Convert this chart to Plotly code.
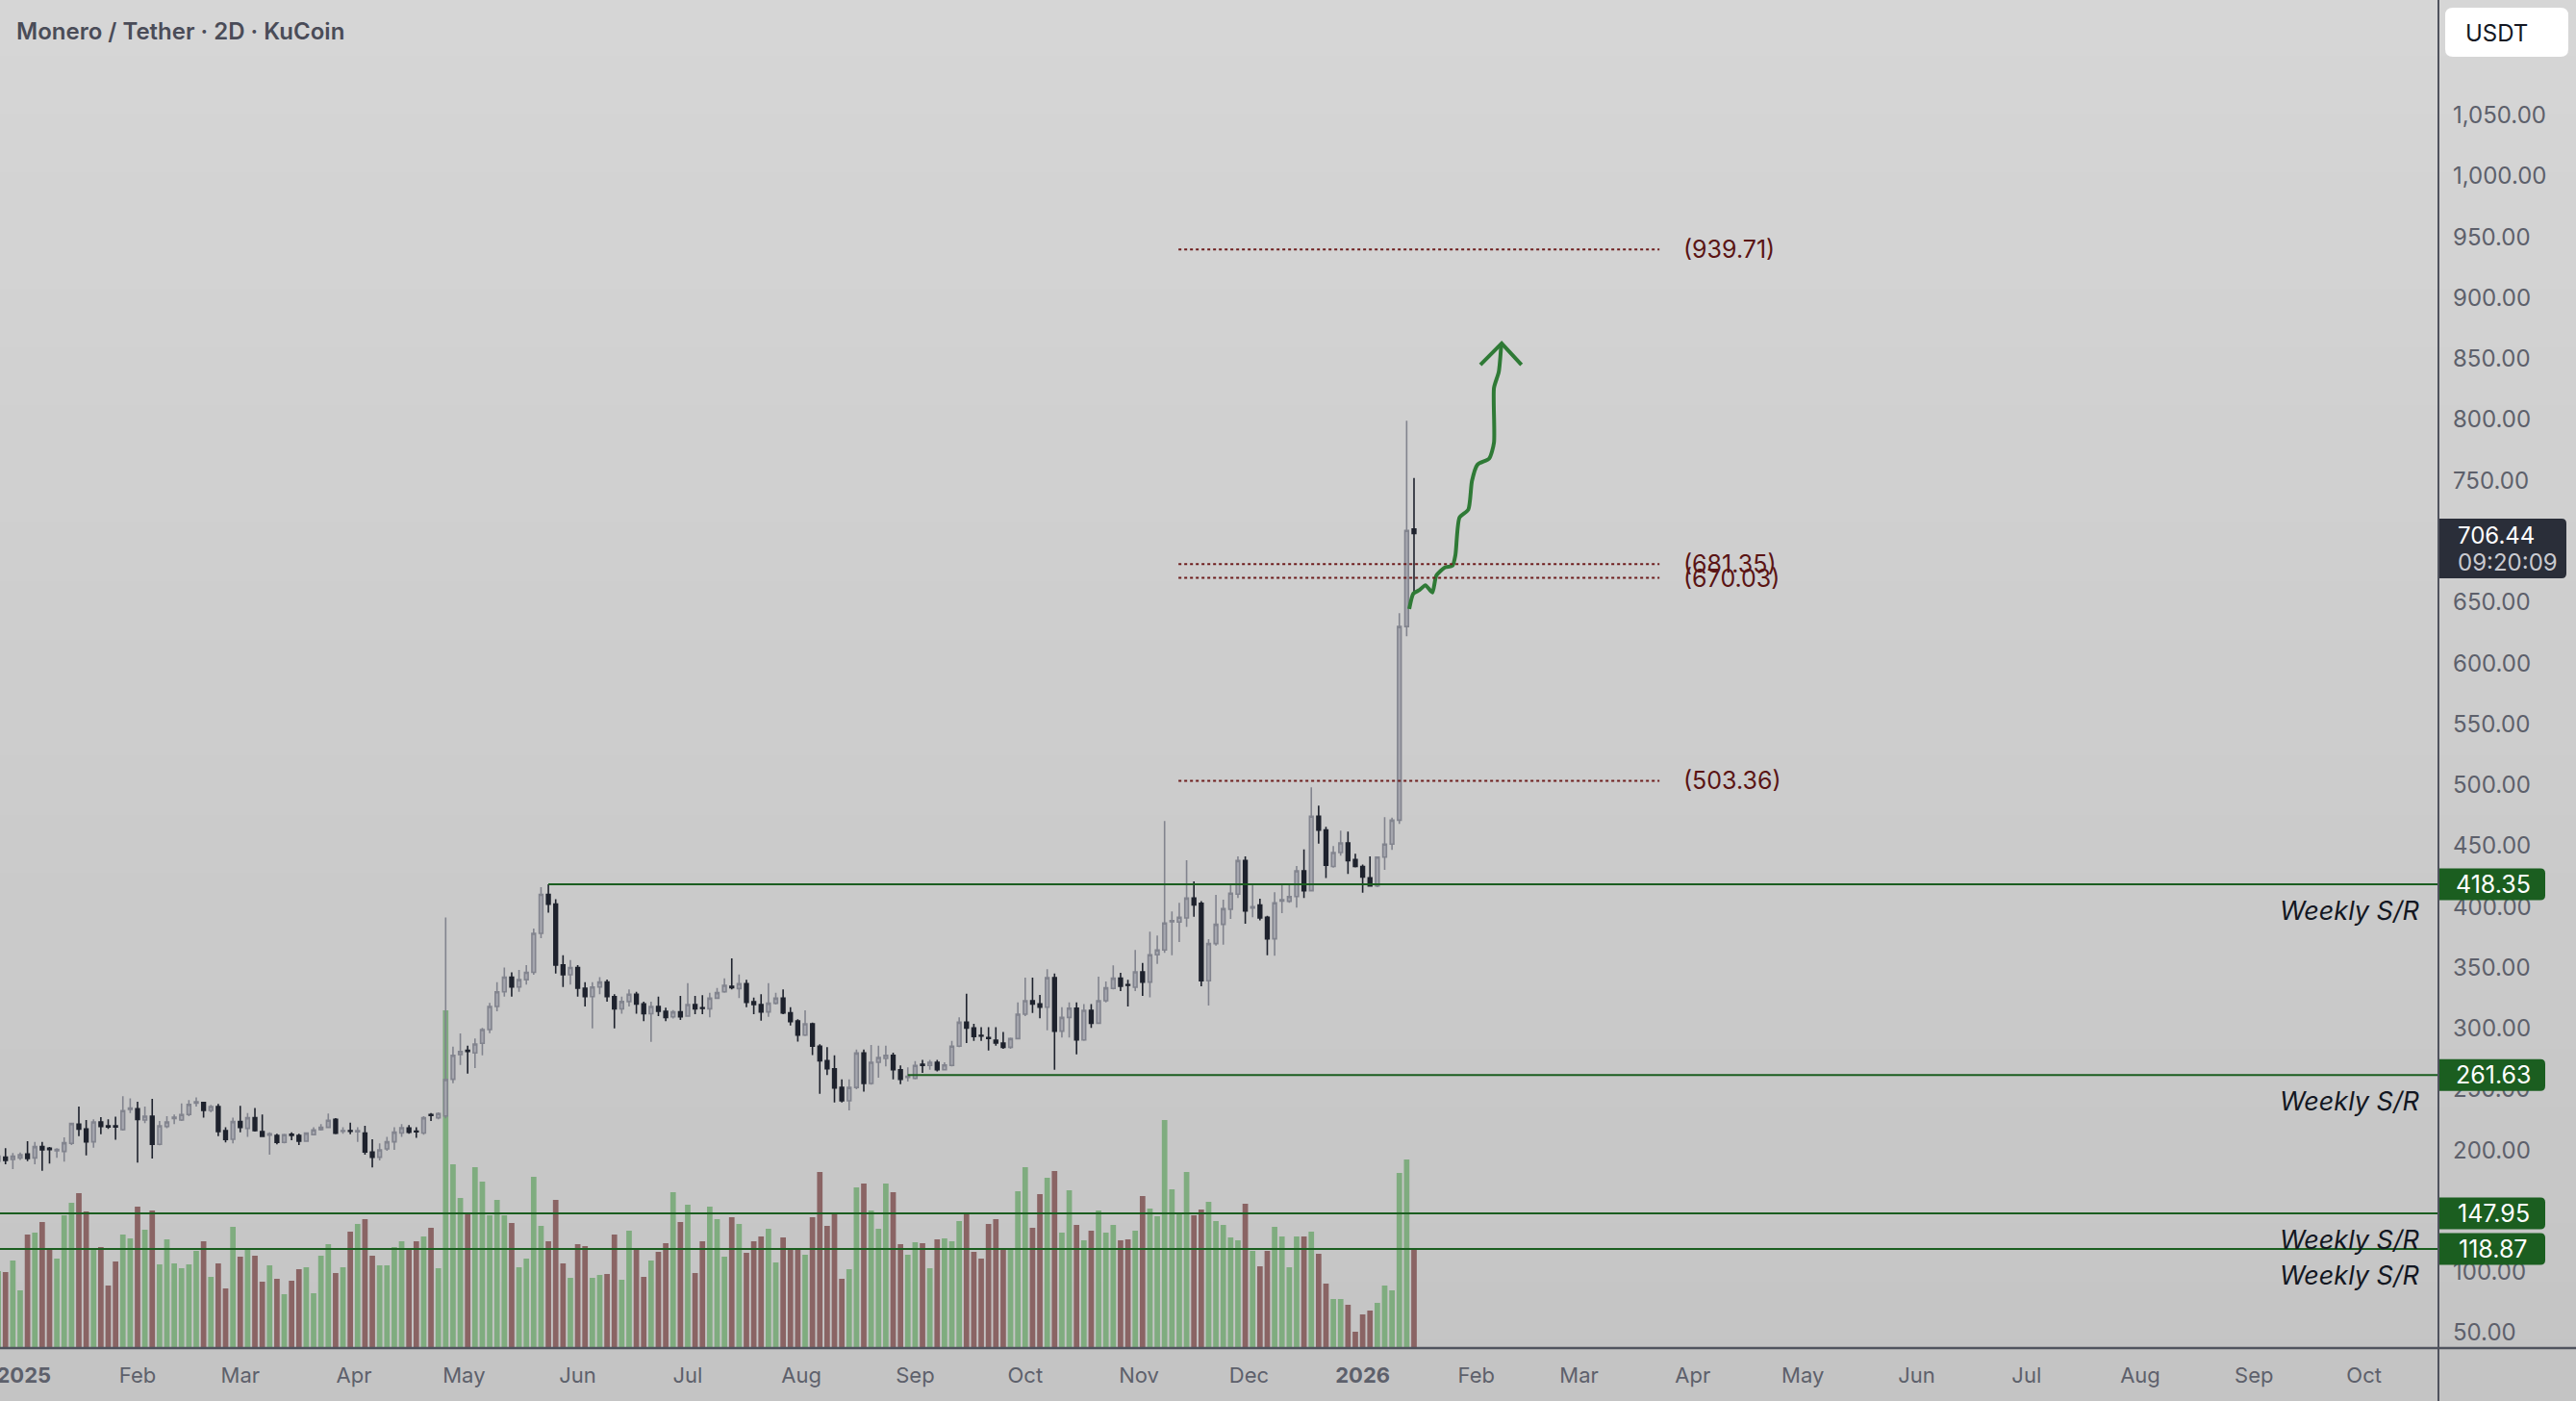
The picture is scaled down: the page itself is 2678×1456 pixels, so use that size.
import pandas as pd
import plotly.graph_objects as go

# ---------------- data ----------------
TITLE = "Monero / Tether · 2D · KuCoin"
LAST_BAR = "2026-01-15"

OPEN = [
    191.0, 194.2, 192.3, 193.6, 196.8, 193.6, 202.9, 201.5, 199.5, 198.9,
    205.5, 221.3, 217.3, 206.8, 223.1, 220.0, 220.0, 216.8, 233.5, 234.0,
    224.7, 227.9, 204.7, 219.4, 226.0, 224.7, 229.2, 238.6, 239.0, 232.6,
    235.8, 216.0, 208.9, 223.4, 217.9, 226.6, 215.2, 212.3, 212.1, 206.3,
    213.0, 212.1, 207.3, 212.6, 216.8, 218.7, 225.2, 215.5, 216.0, 215.0,
    213.9, 198.4, 194.2, 201.0, 206.8, 214.0, 218.1, 215.5, 214.0, 229.2,
    226.6, 228.0, 258.2, 278.5, 282.0, 279.8, 287.7,
    299, 318, 330, 342, 334, 340, 346, 378, 410, 402, 352, 344, 350, 333, 326,
    334, 338, 326, 316, 322, 328, 320, 312, 318, 314,
    309.5, 313.5, 310.0, 319.5, 317.0, 316.1, 324.8, 330.0, 334.5, 332.7,
    336.6, 321.9, 319.5, 313.5, 320.6, 324.8, 312.7, 306.1, 294.5, 303.7,
    285.3, 273.4, 266.8, 251.5, 240.5, 251.5, 279.7, 254.7, 272.1, 275.3,
    277.9, 266.0, 259.7, 258.9, 270.5, 269.5, 272.1, 266.0, 269.5, 285.3,
    305.0, 300.3, 294.2, 292.5, 290.3, 287.9, 284.5, 291.6, 311.6, 322.7,
    320.0, 317.4, 341.6, 297.7, 309.0, 316.6, 290.5, 314.8, 304.2,
    322.7, 332.8, 341.2, 335.8, 333.8, 346.4, 338.0, 360.4, 364.4, 387.5,
    387.3, 390.7, 407.0, 402.6, 339.1, 369.6, 385.4, 397.8, 410.2, 437.8,
    398.8, 401.3, 391.2, 373.6, 404.6, 404.4, 408.3, 429.4, 413.1, 474.2,
    462.9, 432.9, 444.4, 452.3, 438.6, 432.9, 423.6, 417.0, 440.7, 451.3,
    471.0, 630.0, 710.0,
]
HIGH = [
    197.0, 201.5, 197.6, 198.0, 207.3, 206.8, 206.8, 202.5, 201.5, 210.5,
    222.6, 235.8, 224.7, 225.2, 227.1, 225.2, 227.4, 244.2, 242.4, 239.7,
    235.8, 242.1, 224.0, 227.9, 229.2, 238.4, 241.0, 243.2, 239.7, 237.1,
    237.9, 218.7, 226.6, 236.3, 230.5, 234.5, 229.2, 214.7, 213.4, 213.4,
    214.7, 213.4, 214.7, 218.7, 221.3, 230.0, 226.3, 218.7, 222.6, 218.7,
    220.0, 208.9, 205.5, 210.8, 218.7, 221.3, 220.5, 218.7, 227.9, 230.5,
    231.0, 391.0, 285.0, 295.8, 285.8, 291.6, 300.3,
    321, 338, 350, 346, 348, 352, 382, 416, 418.35, 406, 360, 356, 352, 338, 338,
    342, 340, 328, 326, 332, 330, 322, 322, 326, 317,
    315.0, 326.6, 337.2, 326.6, 327.2, 329.3, 333.2, 341.1, 357.4, 344.3,
    339.8, 325.3, 328.0, 337.2, 329.3, 331.9, 317.4, 307.5, 314.8, 304.8,
    287.0, 284.5, 277.9, 258.1, 258.1, 282.6, 282.6, 286.3, 285.8, 285.8,
    280.0, 269.5, 267.9, 273.2, 274.0, 274.0, 274.0, 272.1, 289.7, 309.0,
    328.5, 303.7, 301.0, 301.0, 301.0, 297.1, 292.4, 321.4, 341.6, 341.6,
    327.4, 348.5, 345.1, 317.4, 321.4, 321.4, 320.0, 320.0, 342.4,
    338.5, 351.7, 345.7, 339.9, 364.4, 353.8, 379.4, 376.2, 470.2, 396.0,
    403.1, 438.1, 420.7, 404.4, 373.3, 409.7, 405.7, 418.9, 441.3, 441.3,
    417.6, 406.5, 392.5, 411.8, 418.9, 418.9, 433.4, 447.0, 497.9, 482.9,
    465.5, 449.7, 462.3, 461.6, 443.4, 434.5, 441.3, 441.3, 473.4, 473.0,
    641.0, 799.0, 752.0,
]
LOW = [
    189.0, 188.4, 184.4, 192.0, 191.0, 188.4, 183.1, 188.9, 193.6, 190.5,
    204.2, 211.5, 195.7, 202.0, 213.1, 217.3, 208.4, 216.0, 230.5, 189.7,
    222.1, 193.1, 204.0, 217.9, 221.3, 224.0, 227.9, 235.8, 226.6, 231.0,
    211.5, 206.3, 205.5, 214.7, 210.8, 215.2, 210.8, 196.3, 204.7, 205.5,
    208.1, 204.2, 206.8, 212.1, 216.0, 217.9, 213.1, 213.4, 213.1, 206.8,
    196.3, 185.7, 191.5, 199.4, 200.2, 210.8, 213.4, 210.0, 212.6, 224.0,
    225.2, 226.0, 255.0, 270.0, 262.9, 267.4, 277.9,
    296, 314, 326, 326, 330, 336, 344, 374, 395, 345, 334, 336, 326, 318, 300,
    328, 322, 300, 312, 318, 312, 306, 289, 310, 306,
    308.0, 306.9, 309.5, 311.6, 311.6, 309.0, 324.8, 329.3, 331.9, 324.8,
    317.4, 311.6, 306.3, 309.5, 319.5, 311.6, 302.4, 289.2, 293.7, 278.0,
    246.3, 261.6, 239.2, 239.2, 232.6, 250.0, 248.1, 253.7, 259.5, 268.7,
    258.1, 254.2, 256.3, 258.1, 263.4, 266.0, 264.7, 265.5, 268.7, 284.5,
    287.9, 289.7, 289.7, 281.8, 285.8, 283.2, 283.2, 291.1, 310.1, 312.7,
    308.2, 298.4, 266.0, 292.4, 292.4, 278.7, 289.7, 300.3, 303.7,
    321.4, 331.9, 330.6, 318.0, 330.6, 326.7, 325.4, 353.0, 362.0, 360.1,
    371.0, 383.3, 391.7, 334.6, 318.8, 368.0, 368.8, 389.9, 407.0, 386.0,
    391.2, 388.6, 360.1, 359.6, 394.6, 403.1, 399.1, 407.0, 412.3, 451.8,
    423.4, 432.0, 441.8, 426.8, 432.1, 411.5, 416.3, 416.0, 430.2, 446.5,
    468.0, 622.0, 657.0,
]
CLOSE = [
    195.0, 191.5, 195.0, 196.3, 193.1, 202.9, 200.2, 200.5, 200.5, 206.0,
    221.8, 217.3, 206.8, 223.1, 219.4, 219.0, 219.0, 232.4, 234.5, 225.2,
    227.9, 204.7, 220.0, 223.1, 227.0, 229.2, 237.6, 239.6, 232.6, 235.8,
    215.2, 208.7, 223.4, 218.7, 226.6, 216.0, 211.3, 213.3, 206.3, 212.6,
    212.0, 207.3, 213.9, 216.6, 218.7, 224.5, 213.9, 216.0, 215.5, 216.0,
    198.4, 194.2, 200.2, 206.8, 214.7, 218.4, 214.7, 215.0, 226.6, 228.5,
    230.0, 258.0, 277.9, 281.0, 281.0, 287.1, 299.0,
    318, 330, 342, 334, 340, 346, 378, 410, 402, 352, 344, 350, 333, 326, 334,
    338, 326, 316, 322, 328, 320, 312, 318, 314, 309,
    313.5, 309.5, 319.5, 316.1, 316.5, 324.8, 329.3, 335.3, 333.5, 336.6,
    321.4, 319.5, 313.5, 320.6, 324.8, 312.7, 305.5, 294.5, 303.7, 285.3,
    273.4, 266.8, 251.0, 240.5, 251.5, 279.7, 254.7, 272.1, 276.1, 277.9,
    266.0, 258.1, 260.7, 269.5, 269.5, 272.1, 266.0, 270.0, 285.3, 305.0,
    300.3, 293.2, 293.7, 291.8, 287.9, 284.5, 291.6, 311.6, 322.7, 320.0,
    317.4, 341.6, 297.7, 309.0, 316.6, 290.5, 314.8, 304.2, 322.7,
    333.3, 341.2, 334.6, 335.4, 346.4, 338.0, 360.4, 364.4, 386.5, 388.5,
    391.2, 407.0, 401.3, 339.1, 369.6, 385.4, 398.3, 411.0, 437.8, 396.5,
    400.0, 390.7, 373.6, 403.1, 405.6, 408.3, 429.4, 413.1, 474.2, 462.9,
    433.9, 444.4, 452.3, 437.8, 432.9, 424.2, 417.0, 440.7, 451.3, 471.0,
    630.0, 709.0, 706.44,
]
VOLUME = [
    80, 79, 91, 60, 118, 120, 131, 103, 93, 138, 151, 161, 142, 104, 105, 65,
    90, 118, 114, 147, 123, 143, 87, 113, 88, 83, 87, 101, 111, 74, 88, 62,
    126, 95, 104, 96, 69, 86, 72, 56, 70, 82, 84, 57, 96, 108, 78, 84, 121,
    129, 134, 96, 86, 86, 105, 111, 104, 111, 116, 125, 83, 351,
    191, 156, 140, 188, 173,
    138, 154, 138, 130, 84, 93, 178, 127, 111, 154, 88, 73, 108, 106, 73, 76,
    77, 118, 71, 122, 103, 74, 91, 100, 109,
    162, 131, 149, 78, 111, 147, 134, 95, 136, 129, 99, 111, 116, 124, 89, 115,
    102, 104, 97, 136, 183, 127, 140, 72, 82, 167, 171, 143, 124, 171, 162,
    108, 97, 110, 109, 83, 113, 114, 111, 132, 139, 100, 93, 129, 134, 103,
    102, 163, 188, 125, 160, 177, 184, 120, 164, 128, 112, 122, 143,
    120, 128, 112, 113, 122, 158, 145, 137, 237, 165, 141, 183, 138, 144, 152,
    132, 128, 115, 112, 150, 101, 85, 101, 126, 116, 84, 116, 116, 121, 98, 67,
    51, 51, 45, 17, 35, 39, 47, 65, 60,
    182, 196, 104,
]

MONTH_TICKS = list(pd.date_range("2025-01-01", "2026-10-01", freq="MS"))
MONTH_LABELS = ["<b>2025</b>", "Feb", "Mar", "Apr", "May", "Jun", "Jul", "Aug",
                "Sep", "Oct", "Nov", "Dec", "<b>2026</b>", "Feb", "Mar", "Apr",
                "May", "Jun", "Jul", "Aug", "Sep", "Oct"]
# price labels shown on the scale (those fully hidden under the tags are absent)
PRICE_TICKS = [50, 100, 200, 250, 300, 350, 400, 450, 500, 550, 600, 650,
               750, 800, 850, 900, 950, 1000, 1050]

SR_LEVELS = [418.35, 261.63, 147.95, 118.87]
SR_STARTS = ["2025-05-24", "2025-08-30", None, None]
SR_LABEL = "Weekly S/R"

TARGET_LEVELS = [939.71, 681.35, 670.03, 503.36]
TARGET_SPAN = ["2025-11-11 19:00", "2026-03-22 22:00"]
TARGET_LABEL_DATE = "2026-03-29"

LAST_PRICE = 706.44
COUNTDOWN = "09:20:09"
CURRENCY = "USDT"

# hand-drawn projection path: days after 2026-01-01, price
PATH_DAYS = [12.7, 13.8, 15.5, 17.1, 19.0, 20.1, 22.4, 24.5, 25.3, 26.4, 28.8,
             29.8, 31.3, 34.5, 35.8, 35.8, 37.1, 37.8]
PATH_PRICES = [644.4, 657, 660, 664, 658, 672, 678.5, 680, 689, 719.5, 726,
               749.6, 763, 768, 781, 826, 839, 862]
HEAD_DAYS = [32.1, 37.9, 43.3]
HEAD_PRICES = [845, 862.6, 845]

# ---------------- geometry / style ----------------
W, H = 2678, 1456
PLOT_W, PLOT_H = 2535, 1401
X_RANGE = ["2024-12-25 12:00", "2026-10-21 07:00"]
Y_RANGE = [37.4, 1144.6]
PX_PER_UNIT = PLOT_H / (Y_RANGE[1] - Y_RANGE[0])
FONT = "Inter, Roboto, sans-serif"

UP_LINE, UP_FILL = "#82848e", "#a6a7af"
DN_COLOR = "#1e222d"
VOL_UP, VOL_DN = "#7fac7f", "#8a6464"
SR_GREEN = "#1b5e20"
TARGET_RED = "#6e1d1d"
AXIS_LINE = "#50535e"
TICK_COLOR = "#5d606b"


def paper_x(px):
    return px / PLOT_W


def paper_y(py):
    return 1 - py / PLOT_H


def units(px):
    return px / PX_PER_UNIT


def tag_path(x0, x1, y0, y1, rx, ry, left_round=False):
    if left_round:
        return (f"M{x0 + rx},{y0} L{x1 - rx},{y0} Q{x1},{y0} {x1},{y0 + ry} "
                f"L{x1},{y1 - ry} Q{x1},{y1} {x1 - rx},{y1} L{x0 + rx},{y1} "
                f"Q{x0},{y1} {x0},{y1 - ry} L{x0},{y0 + ry} Q{x0},{y0} {x0 + rx},{y0} Z")
    return (f"M{x0},{y0} L{x1 - rx},{y0} Q{x1},{y0} {x1},{y0 + ry} "
            f"L{x1},{y1 - ry} Q{x1},{y1} {x1 - rx},{y1} L{x0},{y1} Z")


dates = pd.date_range(end=LAST_BAR, periods=len(CLOSE), freq="2D")
vol_colors = [VOL_UP if c >= o else VOL_DN for o, c in zip(OPEN, CLOSE)]
base = pd.Timestamp("2026-01-01")
path_x = [base + pd.to_timedelta(d, unit="D") for d in PATH_DAYS]
head_x = [base + pd.to_timedelta(d, unit="D") for d in HEAD_DAYS]

fig = go.Figure()
fig.add_trace(go.Bar(x=dates, y=VOLUME, marker=dict(color=vol_colors, line=dict(width=0)),
                     yaxis="y", hoverinfo="skip"))
fig.add_trace(go.Candlestick(
    x=dates, open=OPEN, high=HIGH, low=LOW, close=CLOSE, yaxis="y2",
    increasing=dict(line=dict(color=UP_LINE, width=1.6), fillcolor=UP_FILL),
    decreasing=dict(line=dict(color=DN_COLOR, width=1.6), fillcolor=DN_COLOR),
    whiskerwidth=0, hoverinfo="skip"))
fig.add_trace(go.Scatter(x=path_x, y=PATH_PRICES, yaxis="y2", mode="lines",
                         line=dict(color="#2f7a36", width=4, shape="spline", smoothing=0.6),
                         hoverinfo="skip"))
fig.add_trace(go.Scatter(x=head_x, y=HEAD_PRICES, yaxis="y2", mode="lines",
                         line=dict(color="#2f7a36", width=4), hoverinfo="skip"))

shapes = []
# background gradient
n_bands = 24
y_top, y_bot = 1.0, -(H - PLOT_H) / PLOT_H
for k in range(n_bands):
    f = (k + 0.5) / n_bands
    c = round(214 + (196 - 214) * f)
    y1 = y_top - (y_top - y_bot) * k / n_bands + 0.002
    y0 = y_top - (y_top - y_bot) * (k + 1) / n_bands
    shapes.append(dict(type="rect", xref="paper", yref="paper", x0=0, x1=W / PLOT_W,
                       y0=y0, y1=y1, fillcolor=f"rgb({c},{c},{c})",
                       line=dict(width=0), layer="below"))

annotations = []
# support / resistance lines
for lvl, start in zip(SR_LEVELS, SR_STARTS):
    shapes.append(dict(type="line", xref="x", yref="y2", x0=start or X_RANGE[0], x1=X_RANGE[1],
                       y0=lvl, y1=lvl, line=dict(color=SR_GREEN, width=2), layer="above"))
    annotations.append(dict(xref="paper", yref="y2", x=paper_x(2518), y=lvl, xanchor="right",
                            yanchor="top", yshift=-9, showarrow=False,
                            text=f"<i>{SR_LABEL}</i>",
                            font=dict(family=FONT, size=27, color="#131722")))
    half = units(16.5)
    shapes.append(dict(type="path", xref="paper", yref="y2", layer="above",
                       path=tag_path(paper_x(2536), paper_x(2646), lvl - half, lvl + half,
                                     5 / PLOT_W, units(5)),
                       fillcolor=SR_GREEN, line=dict(width=0)))
    annotations.append(dict(xref="paper", yref="y2", x=paper_x(2592), y=lvl, xanchor="center",
                            yanchor="middle", showarrow=False, text=f"{lvl:.2f}",
                            font=dict(family=FONT, size=25, color="white")))

# target levels (dotted)
for lvl in TARGET_LEVELS:
    shapes.append(dict(type="line", xref="x", yref="y2", x0=TARGET_SPAN[0], x1=TARGET_SPAN[1],
                       y0=lvl, y1=lvl, line=dict(color=TARGET_RED, width=2, dash="dot"),
                       layer="above"))
    annotations.append(dict(xref="x", yref="y2", x=TARGET_LABEL_DATE, y=lvl, xanchor="left",
                            yanchor="middle", showarrow=False, text=f"({lvl:.2f})",
                            font=dict(family=FONT, size=25, color="#5a1414")))

# last price tag
shapes.append(dict(type="path", xref="paper", yref="y2", layer="above",
                   path=tag_path(paper_x(2536), paper_x(2668), LAST_PRICE - units(46.6),
                                 LAST_PRICE + units(15.4), 5 / PLOT_W, units(5)),
                   fillcolor="#2a2e39", line=dict(width=0)))
annotations.append(dict(xref="paper", yref="y2", x=paper_x(2553), y=LAST_PRICE, xanchor="left",
                        yanchor="middle", yshift=-2, showarrow=False, text=f"{LAST_PRICE:.2f}",
                        font=dict(family=FONT, size=24, color="white")))
annotations.append(dict(xref="paper", yref="y2", x=paper_x(2553), y=LAST_PRICE, xanchor="left",
                        yanchor="middle", yshift=-30, showarrow=False, text=COUNTDOWN,
                        font=dict(family=FONT, size=24, color="#c9cad0")))

# currency box
shapes.append(dict(type="path", xref="paper", yref="paper", layer="above",
                   path=tag_path(paper_x(2542), paper_x(2670), paper_y(59), paper_y(8),
                                 8 / PLOT_W, 8 / PLOT_H, left_round=True),
                   fillcolor="white", line=dict(width=0)))
annotations.append(dict(xref="paper", yref="paper", x=paper_x(2561), y=paper_y(34),
                        xanchor="left", yanchor="middle", showarrow=False, text=CURRENCY,
                        font=dict(family=FONT, size=24, color="#131722")))

# axis lines
shapes.append(dict(type="line", xref="paper", yref="paper", x0=0, x1=W / PLOT_W, y0=0, y1=0,
                   line=dict(color=AXIS_LINE, width=2.5), layer="above"))
shapes.append(dict(type="line", xref="paper", yref="paper", x0=1, x1=1, y0=y_bot, y1=1,
                   line=dict(color=AXIS_LINE, width=2), layer="above"))

# title
annotations.append(dict(xref="paper", yref="paper", x=paper_x(15), y=paper_y(32),
                        xanchor="left", yanchor="middle", showarrow=False, text=TITLE,
                        font=dict(family=FONT, size=24, color="#4a4c58", weight=600)))

fig.update_layout(
    width=W, height=H,
    margin=dict(l=0, r=W - PLOT_W, t=0, b=H - PLOT_H, pad=0, autoexpand=False),
    paper_bgcolor="rgb(205,205,205)", plot_bgcolor="rgba(0,0,0,0)",
    showlegend=False, bargap=0.25, hovermode=False,
    xaxis=dict(type="date", range=X_RANGE, rangeslider=dict(visible=False),
               showgrid=False, zeroline=False, showline=False, ticks="",
               tickvals=MONTH_TICKS, ticktext=MONTH_LABELS, ticklabelstandoff=13,
               ticklabeloverflow="allow", automargin=False,
               tickfont=dict(family=FONT, size=22, color=TICK_COLOR)),
    yaxis=dict(range=[0, PLOT_H], visible=False, fixedrange=True),
    yaxis2=dict(overlaying="y", anchor="x", side="right", range=Y_RANGE,
                showgrid=False, zeroline=False, showline=False, ticks="",
                tickvals=PRICE_TICKS, tickformat=",.2f", ticklabelstandoff=14,
                automargin=False,
                tickfont=dict(family=FONT, size=24, color=TICK_COLOR)),
    shapes=shapes, annotations=annotations,
)

fig.write_html("out.html")
